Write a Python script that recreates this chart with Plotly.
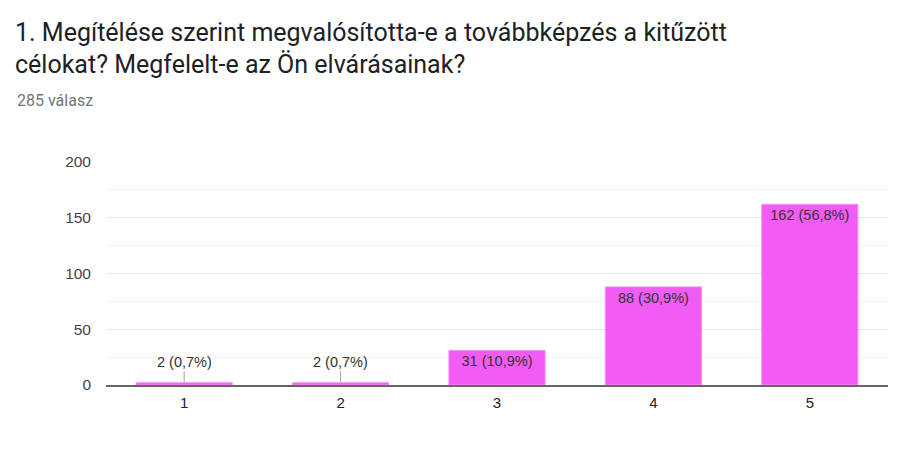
import plotly.graph_objects as go

categories = ["1", "2", "3", "4", "5"]
counts = [2, 2, 31, 88, 162]
percents = ["0,7%", "0,7%", "10,9%", "30,9%", "56,8%"]
y_ticks = [0, 50, 100, 150, 200]

title_line1 = "1. Megítélése szerint megvalósította-e a továbbképzés a kitűzött"
title_line2 = "célokat? Megfelelt-e az Ön elvárásainak?"
subtitle = "285 válasz"

BAR = "#f15cf5"
LABEL_FONT = dict(family="Liberation Sans, Arial", size=14.5, color="#333333")
labels = [f"{c} ({p})" for c, p in zip(counts, percents)]
small = [c < 20 for c in counts]

fig = go.Figure()
fig.add_trace(go.Bar(
    x=categories, y=counts,
    text=labels,
    textposition=["none" if s else "inside" for s in small],
    insidetextanchor="end",
    textangle=0,
    insidetextfont=LABEL_FONT,
    marker=dict(color=BAR, line=dict(color="#f58cf8", width=1)),
    width=0.615,
    cliponaxis=False,
    hoverinfo="skip",
))

for i, (c, lab, s) in enumerate(zip(counts, labels, small)):
    if s:
        fig.add_annotation(
            x=i, y=c, xref="x", yref="y", text=lab,
            showarrow=True, arrowhead=0, arrowwidth=1.2, arrowcolor="#b0b0b0",
            ax=0, ay=-21, standoff=0, startstandoff=0,
            font=LABEL_FONT,
        )

# the page body adds an 8px offset; positions below are screen pixels
PL, PR, PT, PB = 106, 888, 162, 385
W, H = PR - PL, PB - PT

def px(sx):
    return (sx - PL) / W

def py(sy):
    return (PB - sy) / H

X0 = px(13)
fig.add_annotation(text=title_line1, xref="paper", yref="paper", x=X0, y=py(32),
                   xanchor="left", yanchor="middle", showarrow=False,
                   font=dict(family="Roboto", size=25, color="#202124"))
fig.add_annotation(text=title_line2, xref="paper", yref="paper", x=X0, y=py(64),
                   xanchor="left", yanchor="middle", showarrow=False,
                   font=dict(family="Roboto", size=25, color="#202124"))
fig.add_annotation(text=subtitle, xref="paper", yref="paper", x=px(15), y=py(100),
                   xanchor="left", yanchor="middle", showarrow=False,
                   font=dict(family="Roboto", size=16, color="#70757a"))

fig.update_layout(
    width=900, height=450,
    margin=dict(l=PL - 8, r=900 - PR + 8, t=PT - 8, b=450 - PB + 8, autoexpand=False),
    paper_bgcolor="white", plot_bgcolor="white",
    showlegend=False,
    font=dict(family="Liberation Sans, Arial", size=15, color="#222222"),
)
fig.update_yaxes(
    range=[0, 200], tickvals=y_ticks, ticktext=[str(v) for v in y_ticks],
    showgrid=True, gridcolor="#e6e6e6", gridwidth=1,
    minor=dict(dtick=25, showgrid=True, gridcolor="#f3f3f3"),
    zeroline=False, showline=False, ticks="", ticklabelstandoff=14,
    tickfont=dict(family="Liberation Sans, Arial", size=15.5, color="#444444"),
    fixedrange=True, automargin=False,
)
fig.update_xaxes(
    showline=True, linecolor="#666666", linewidth=1.5,
    showgrid=False, ticks="", ticklabelstandoff=3,
    tickfont=dict(family="Liberation Sans, Arial", size=15, color="#222222"),
    fixedrange=True, automargin=False,
)

fig.write_html("out.html", config={"displayModeBar": False})
